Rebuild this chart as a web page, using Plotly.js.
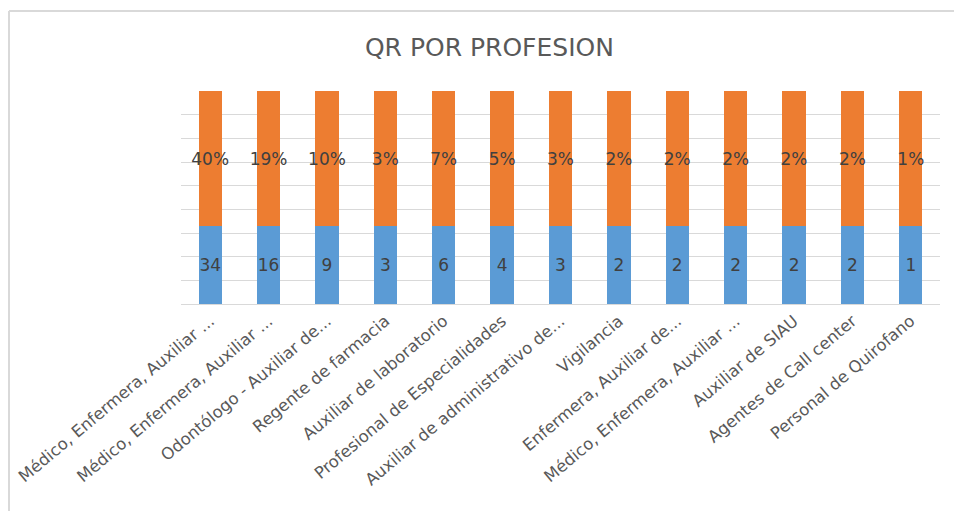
<!DOCTYPE html>
<html>
<head>
<meta charset="utf-8">
<script src="https://cdn.plot.ly/plotly-3.0.1.min.js"></script>
<style>
html,body{margin:0;padding:0;background:#fff;}
#chart{width:954px;height:511px;}
</style>
</head>
<body>
<div id="chart"></div>
<script>
// Categories (as shown, truncated like the original; zero-width spaces keep repeated labels distinct)
const categories = [
  "Médico, Enfermera, Auxiliar ...",
  "Médico, Enfermera, Auxiliar ...\u200b",
  "Odontólogo - Auxiliar de...",
  "Regente de farmacia",
  "Auxiliar de laboratorio",
  "Profesional de Especialidades",
  "Auxiliar de administrativo de...",
  "Vigilancia",
  "Enfermera, Auxiliar de...",
  "Médico, Enfermera, Auxiliar ...\u200b\u200b",
  "Auxiliar de SIAU",
  "Agentes de Call center",
  "Personal de Quirofano"
];
// Count labels (blue series)
const counts = [34, 16, 9, 3, 6, 4, 3, 2, 2, 2, 2, 2, 1];
// Percentage labels (orange series)
const percents = ["40%", "19%", "10%", "3%", "7%", "5%", "3%", "2%", "2%", "2%", "2%", "2%", "1%"];
// Segment heights (share of the full bar)
const blueShare = [0.364, 0.364, 0.364, 0.364, 0.364, 0.364, 0.364, 0.364, 0.364, 0.364, 0.364, 0.364, 0.364];
const orangeShare = [0.636, 0.636, 0.636, 0.636, 0.636, 0.636, 0.636, 0.636, 0.636, 0.636, 0.636, 0.636, 0.636];

const FONT = "DejaVu Sans, sans-serif";
const labelFont = {family: FONT, size: 17, color: "#404040"};

const traces = [
  {
    type: "bar", x: categories, y: blueShare,
    marker: {color: "#5b9bd5"},
    text: counts.map(String), textposition: "inside", insidetextanchor: "middle",
    textangle: 0, textfont: labelFont, insidetextfont: labelFont, constraintext: "none",
    hoverinfo: "skip", name: "Cantidad"
  },
  {
    type: "bar", x: categories, y: orangeShare,
    marker: {color: "#ed7d31"},
    text: percents, textposition: "inside", insidetextanchor: "middle",
    textangle: 0, textfont: labelFont, insidetextfont: labelFont, constraintext: "none",
    hoverinfo: "skip", name: "Porcentaje"
  }
];

const layout = {
  width: 954, height: 511,
  margin: {l: 181, r: 14, t: 91, b: 207},
  paper_bgcolor: "#ffffff", plot_bgcolor: "#ffffff",
  barmode: "stack", bargap: 0.6,
  showlegend: false,
  title: {
    text: "QR POR PROFESION",
    font: {family: FONT, size: 25, color: "#595959"},
    x: 0.513, xref: "container", xanchor: "center",
    y: 0.908, yref: "container", yanchor: "middle"
  },
  xaxis: {
    type: "category",
    tickangle: -40,
    tickfont: {family: FONT, size: 16.5, color: "#595959"},
    showgrid: false, zeroline: false,
    showline: true, linecolor: "#d9d9d9", linewidth: 1,
    ticks: ""
  },
  yaxis: {
    range: [0, 1], dtick: 1/9, tick0: 0,
    showticklabels: false, showgrid: true, gridcolor: "#d9d9d9", gridwidth: 1,
    zeroline: false, showline: false, ticks: ""
  },
  shapes: [
    {type: "line", xref: "paper", yref: "paper", x0: -0.2266, x1: 1.03, y0: 1.3756, y1: 1.3756,
     line: {color: "#d9d9d9", width: 2}},
    {type: "line", xref: "paper", yref: "paper", x0: -0.2266, x1: -0.2266, y0: 1.3756, y1: -1.0,
     line: {color: "#d9d9d9", width: 2}}
  ]
};

Plotly.newPlot("chart", traces, layout, {displayModeBar: false, staticPlot: true});
</script>
</body>
</html>
